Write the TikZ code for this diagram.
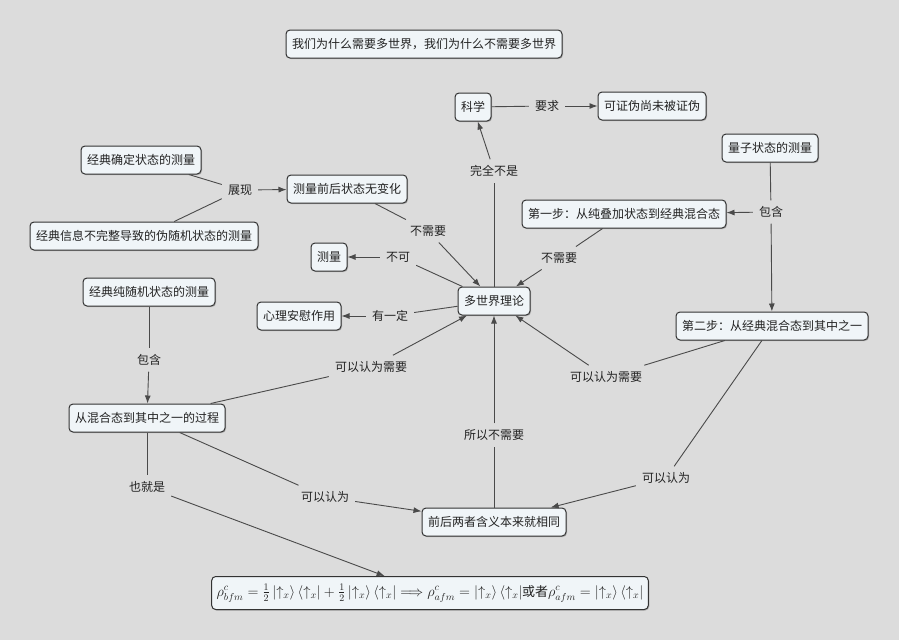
\documentclass[tikz,border=0pt]{standalone}
\usepackage{amsmath}
\usepackage{fontspec}
\newfontfamily\cjk{Noto Sans CJK SC}
\usetikzlibrary{arrows.meta,shadows}
\definecolor{bg}{HTML}{DCDCDC}
\definecolor{boxfill}{HTML}{F0F5F8}
\definecolor{lncol}{HTML}{4A4A4A}
\definecolor{txt}{HTML}{222222}
\tikzset{
  cbox/.style={draw=black!80, line width=1pt, fill=boxfill, rounded corners=4pt,
    minimum height=28pt, inner xsep=6pt, inner ysep=3pt,
    font=\cjk\fontsize{12}{14.5}\selectfont, text=txt,
    drop shadow={shadow xshift=1pt,shadow yshift=-1pt,fill=black!50,opacity=0.5}},
  lab/.style={inner xsep=6pt, inner ysep=6pt, font=\cjk\fontsize{12}{14.5}\selectfont, text=txt},
  lnk/.style={draw=lncol, line width=0.9pt},
  arr/.style={lnk, -{Latex[length=8pt,width=6pt]}}
}
\begin{document}
\begin{tikzpicture}[x=1pt,y=-1pt]
\fill[bg] (0,0) rectangle (899,640);
\useasboundingbox (0,0) rectangle (899,640);
% concept nodes
\node[cbox] (title) at (424,44) {我们为什么需要多世界，我们为什么不需要多世界};
\node[cbox] (kx) at (473,107) {科学};
\node[cbox] (kzw) at (652,106) {可证伪尚未被证伪};
\node[cbox] (lz) at (770,148) {量子状态的测量};
\node[cbox] (jdq) at (141,160) {经典确定状态的测量};
\node[cbox] (clq) at (347,189) {测量前后状态无变化};
\node[cbox] (jdx) at (144,236) {经典信息不完整导致的伪随机状态的测量};
\node[cbox] (step1) at (624,214) {第一步：从纯叠加状态到经典混合态};
\node[cbox] (cl) at (329,257) {测量};
\node[cbox] (dsj) at (494,301) {多世界理论};
\node[cbox] (jdc) at (149,292) {经典纯随机状态的测量};
\node[cbox] (xl) at (299,316) {心理安慰作用};
\node[cbox] (step2) at (772,326) {第二步：从经典混合态到其中之一};
\node[cbox] (hh) at (147,418) {从混合态到其中之一的过程};
\node[cbox] (qh) at (494,522) {前后两者含义本来就相同};
\node[cbox, minimum height=33pt, inner xsep=5pt, font=\fontsize{14.5}{16}\selectfont] (fm) at (430,593)
  {$\rho^c_{bfm}=\frac{1}{2}\left|\uparrow_x\right\rangle\left\langle\uparrow_x\right|+\frac{1}{2}\left|\uparrow_x\right\rangle\left\langle\uparrow_x\right|\Longrightarrow\rho^c_{afm}=\left|\uparrow_x\right\rangle\left\langle\uparrow_x\right|$\hspace{-0.5pt}{\cjk\fontsize{13}{15}\selectfont 或者}$\rho^c_{afm}=\left|\uparrow_x\right\rangle\left\langle\uparrow_x\right|$};
% linking labels
\node[lab] (l_yq) at (547,106) {要求};
\node[lab] (l_zx) at (240,190) {展现};
\node[lab] (l_wq) at (494,171) {完全不是};
\node[lab] (l_bh1) at (771,212) {包含};
\node[lab] (l_bxy1) at (428,231) {不需要};
\node[lab] (l_bxy2) at (559,258) {不需要};
\node[lab] (l_bk) at (398,257) {不可};
\node[lab] (l_yd) at (390,316) {有一定};
\node[lab] (l_bh2) at (149,360) {包含};
\node[lab] (l_kx1) at (371,367) {可以认为需要};
\node[lab] (l_kx2) at (606,377) {可以认为需要};
\node[lab] (l_sy) at (494,435) {所以不需要};
\node[lab] (l_yjs) at (147,487) {也就是};
\node[lab] (l_kr1) at (325,497) {可以认为};
\node[lab] (l_kr2) at (666,478) {可以认为};
% connectors
\draw[lnk] (kx) -- (l_yq); \draw[arr] (l_yq) -- (kzw);
\draw[lnk] (jdq) -- (l_zx); \draw[lnk] (jdx) -- (l_zx); \draw[arr] (l_zx) -- (clq);
\draw[lnk] (dsj) -- (l_wq); \draw[arr] (l_wq) -- (kx);
\draw[lnk] (lz) -- (l_bh1); \draw[arr] (l_bh1) -- (step1); \draw[arr] (l_bh1) -- (step2);
\draw[lnk] (clq) -- (l_bxy1); \draw[arr] (l_bxy1) -- (dsj);
\draw[lnk] (step1) -- (l_bxy2); \draw[arr] (l_bxy2) -- (dsj);
\draw[lnk] (dsj) -- (l_bk); \draw[arr] (l_bk) -- (cl);
\draw[lnk] (dsj) -- (l_yd); \draw[arr] (l_yd) -- (xl);
\draw[lnk] (jdc) -- (l_bh2); \draw[arr] (l_bh2) -- (hh);
\draw[lnk] (hh) -- (l_kx1); \draw[arr] (l_kx1) -- (dsj);
\draw[lnk] (step2) -- (l_kx2); \draw[arr] (l_kx2) -- (dsj);
\draw[lnk] (qh) -- (l_sy); \draw[arr] (l_sy) -- (dsj);
\draw[lnk] (hh) -- (l_yjs); \draw[arr] (l_yjs) -- (fm);
\draw[lnk] (hh) -- (l_kr1); \draw[arr] (l_kr1) -- (qh);
\draw[lnk] (step2) -- (l_kr2); \draw[arr] (l_kr2) -- (qh);
\end{tikzpicture}
\end{document}
